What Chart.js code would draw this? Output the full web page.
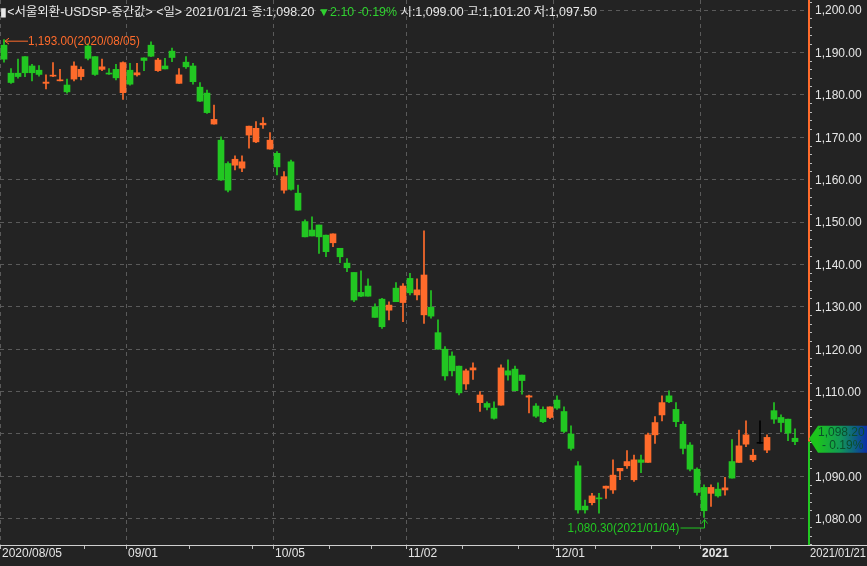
<!DOCTYPE html>
<html>
<head>
<meta charset="utf-8">
<script src="https://cdn.jsdelivr.net/npm/chart.js@4.4.1/dist/chart.umd.min.js"></script>
<style>
html, body { margin: 0; padding: 0; background: #232323; }
#wrap { position: relative; width: 867px; height: 566px; overflow: hidden; }
#header {
    position: absolute; left: 0; top: 2px;
    font: 12px "Liberation Sans", "Noto Sans CJK KR", sans-serif;
    color: #e8e8e8; white-space: nowrap; transform-origin: 0 0;
}
#header .dn { color: #2fd12f; }
</style>
</head>
<body>
<div id="wrap">
    <canvas id="main-chart" width="867" height="566"></canvas>
    <div id="header"><span id="header-text">▮&lt;서울외환-USDSP-중간값&gt; &lt;일&gt; 2021/01/21 종:1,098.20 <span class="dn">▼2.10 -0.19%</span> 시:1,099.00 고:1,101.20 저:1,097.50</span></div>
</div>
<script>
// dates (trading days)
const dates = [
    "2020/08/05", "2020/08/06", "2020/08/07", "2020/08/10", "2020/08/11", "2020/08/12", "2020/08/13", "2020/08/14",
    "2020/08/18", "2020/08/19", "2020/08/20", "2020/08/21", "2020/08/24", "2020/08/25", "2020/08/26", "2020/08/27",
    "2020/08/28", "2020/08/31",
    "2020/09/01", "2020/09/02", "2020/09/03", "2020/09/04", "2020/09/07", "2020/09/08", "2020/09/09", "2020/09/10",
    "2020/09/11", "2020/09/14", "2020/09/15", "2020/09/16", "2020/09/17", "2020/09/18", "2020/09/21", "2020/09/22",
    "2020/09/23", "2020/09/24", "2020/09/25", "2020/09/28", "2020/09/29",
    "2020/10/05", "2020/10/06", "2020/10/07", "2020/10/08", "2020/10/12", "2020/10/13", "2020/10/14", "2020/10/15",
    "2020/10/16", "2020/10/19", "2020/10/20", "2020/10/21", "2020/10/22", "2020/10/23", "2020/10/26", "2020/10/27",
    "2020/10/28", "2020/10/29", "2020/10/30",
    "2020/11/02", "2020/11/03", "2020/11/04", "2020/11/05", "2020/11/06", "2020/11/09", "2020/11/10", "2020/11/11",
    "2020/11/12", "2020/11/13", "2020/11/16", "2020/11/17", "2020/11/18", "2020/11/19", "2020/11/20", "2020/11/23",
    "2020/11/24", "2020/11/25", "2020/11/26", "2020/11/27", "2020/11/30",
    "2020/12/01", "2020/12/02", "2020/12/03", "2020/12/04", "2020/12/07", "2020/12/08", "2020/12/09", "2020/12/10",
    "2020/12/11", "2020/12/14", "2020/12/15", "2020/12/16", "2020/12/17", "2020/12/18", "2020/12/21", "2020/12/22",
    "2020/12/23", "2020/12/24", "2020/12/28", "2020/12/29", "2020/12/30",
    "2021/01/04", "2021/01/05", "2021/01/06", "2021/01/07", "2021/01/08", "2021/01/11", "2021/01/12", "2021/01/13",
    "2021/01/14", "2021/01/15", "2021/01/18", "2021/01/19", "2021/01/20", "2021/01/21"
]

// OHLC
const opens = [
    1191.7, 1185.1, 1185.1, 1189.0, 1186.8, 1185.8, 1182.7, 1184.4, 1183.3, 1182.3, 1183.7, 1184.3, 1191.5, 1189.0,
    1186.0, 1185.1, 1186.0, 1180.5, 1185.8, 1184.7, 1188.7, 1191.7, 1185.7, 1186.8, 1190.3, 1182.7, 1187.7, 1186.8,
    1181.8, 1180.4, 1173.1, 1169.3, 1163.8, 1163.4, 1162.7, 1170.5, 1168.9, 1172.9, 1167.2, 1166.2, 1157.5, 1164.2,
    1156.8, 1150.1, 1148.1, 1149.3, 1146.9, 1145.1, 1143.8, 1140.3, 1138.1, 1133.4, 1134.9, 1130.0, 1131.8, 1129.2,
    1134.4, 1131.0, 1136.7, 1132.8, 1128.1, 1129.9, 1123.9, 1120.0, 1118.4, 1116.0, 1111.8, 1115.1, 1107.4, 1107.2,
    1106.1, 1106.8, 1114.9, 1115.3, 1113.9, 1108.7, 1106.6, 1105.8, 1103.9, 1108.0, 1105.3, 1100.0, 1092.5, 1083.0,
    1083.8, 1084.9, 1087.2, 1086.8, 1091.3, 1092.5, 1089.2, 1093.9, 1093.3, 1099.8, 1104.5, 1109.0, 1105.8, 1102.3,
    1097.4, 1091.7, 1087.4, 1086.0, 1087.0, 1086.8, 1093.5, 1093.3, 1097.6, 1093.9, 1097.8, 1096.2, 1105.5, 1103.9,
    1103.5, 1099.0
]
const highs = [
    1193.0, 1186.2, 1188.4, 1189.0, 1187.2, 1186.9, 1184.7, 1187.6, 1186.0, 1183.7, 1187.8, 1186.6, 1192.0, 1189.0,
    1188.4, 1186.2, 1187.2, 1187.8, 1187.4, 1187.4, 1188.7, 1192.5, 1188.6, 1188.6, 1191.0, 1186.2, 1189.0, 1187.4,
    1182.9, 1181.1, 1177.6, 1170.1, 1164.2, 1165.6, 1165.6, 1172.6, 1173.7, 1174.6, 1171.1, 1166.6, 1161.9, 1164.6,
    1158.7, 1150.5, 1151.2, 1149.3, 1146.9, 1147.2, 1143.8, 1141.4, 1138.1, 1138.5, 1136.6, 1130.7, 1132.0, 1131.2,
    1135.7, 1135.5, 1137.9, 1136.6, 1147.9, 1133.8, 1126.9, 1120.6, 1119.4, 1116.0, 1115.3, 1116.8, 1110.0, 1107.6,
    1107.6, 1116.3, 1117.5, 1116.0, 1113.9, 1109.2, 1107.2, 1106.4, 1106.4, 1109.0, 1106.4, 1101.9, 1093.5, 1084.4,
    1086.0, 1086.0, 1087.7, 1093.9, 1091.9, 1096.1, 1095.0, 1095.0, 1100.2, 1104.1, 1109.0, 1110.2, 1107.4, 1102.9,
    1098.0, 1092.0, 1088.0, 1088.0, 1088.5, 1089.8, 1098.7, 1100.9, 1103.1, 1096.4, 1103.1, 1099.8, 1107.4, 1104.5,
    1103.5, 1101.2
]
const lows = [
    1187.7, 1182.7, 1183.9, 1184.3, 1183.3, 1184.4, 1181.4, 1184.3, 1183.3, 1180.4, 1183.3, 1183.5, 1188.2, 1184.6,
    1185.7, 1184.8, 1183.5, 1178.9, 1182.3, 1184.4, 1185.7, 1189.0, 1185.5, 1186.1, 1187.8, 1182.7, 1186.2, 1182.5,
    1178.4, 1175.6, 1173.1, 1159.8, 1157.1, 1162.3, 1161.9, 1167.4, 1168.7, 1172.1, 1167.2, 1161.1, 1156.8, 1157.5,
    1152.8, 1146.5, 1146.7, 1142.6, 1141.8, 1144.2, 1140.4, 1138.3, 1131.2, 1132.4, 1132.5, 1127.5, 1124.9, 1126.9,
    1131.2, 1126.5, 1132.8, 1131.6, 1126.1, 1127.3, 1120.0, 1112.7, 1113.7, 1109.2, 1110.5, 1112.9, 1105.3, 1105.7,
    1103.5, 1106.8, 1112.7, 1110.2, 1109.4, 1105.0, 1103.9, 1102.7, 1103.6, 1105.8, 1100.3, 1096.2, 1081.3, 1081.3,
    1083.3, 1081.3, 1084.8, 1086.0, 1089.2, 1091.9, 1088.8, 1090.9, 1093.3, 1097.8, 1103.1, 1107.4, 1101.7, 1095.3,
    1091.3, 1085.6, 1080.3, 1082.9, 1085.1, 1085.6, 1089.6, 1093.3, 1097.0, 1093.5, 1097.8, 1095.6, 1102.5, 1100.5,
    1098.4, 1097.5
]
const closes = [
    1188.4, 1182.9, 1184.3, 1185.2, 1185.2, 1184.8, 1183.0, 1184.6, 1183.5, 1180.7, 1186.8, 1186.0, 1188.6, 1184.8,
    1186.6, 1184.9, 1184.0, 1187.6, 1182.5, 1185.2, 1188.1, 1189.1, 1188.2, 1186.1, 1188.8, 1184.7, 1186.6, 1183.1,
    1178.5, 1175.8, 1174.2, 1159.9, 1157.5, 1164.8, 1164.2, 1172.6, 1172.1, 1173.3, 1169.3, 1163.0, 1160.7, 1157.7,
    1152.8, 1146.5, 1146.7, 1146.5, 1143.0, 1147.2, 1141.8, 1139.2, 1131.6, 1132.5, 1132.5, 1127.5, 1125.3, 1130.4,
    1131.2, 1134.9, 1133.3, 1134.0, 1137.5, 1127.8, 1120.0, 1113.7, 1114.9, 1109.7, 1114.9, 1115.6, 1109.2, 1106.3,
    1103.7, 1115.6, 1113.9, 1110.2, 1112.6, 1109.0, 1104.2, 1102.9, 1106.4, 1106.1, 1100.6, 1096.6, 1082.1, 1082.1,
    1085.4, 1084.7, 1087.7, 1090.3, 1091.9, 1093.5, 1093.9, 1093.3, 1099.8, 1102.7, 1107.4, 1107.6, 1102.9, 1096.6,
    1091.7, 1086.2, 1081.9, 1087.4, 1085.4, 1087.3, 1089.6, 1097.2, 1099.8, 1095.0, 1097.8, 1099.2, 1103.5, 1102.7,
    1100.2, 1098.2
]

// axis ticks
const yTickValues = [1080, 1090, 1100, 1110, 1120, 1130, 1140, 1150, 1160, 1170, 1180, 1190, 1200]
const minorTickIdx = [12, 27, 36, 47, 53, 66, 74, 85, 93, 97, 110]

// colours
const UP = "#ff6b2b"
const DOWN = "#22c722"
const SAME = "#000000"
const GRID = "#5a5a5a"
const TEXT = "#e6e6e6"
const FONT = "'Liberation Sans', 'Noto Sans CJK KR', sans-serif"

const candleColor = i => closes[i] > opens[i] ? UP : (closes[i] < opens[i] ? DOWN : SAME)
const colors = dates.map((d, i) => candleColor(i))
const fmt = v => v.toLocaleString("en-US", { minimumFractionDigits: 2, maximumFractionDigits: 2 })

// first trading day of each month -> major ticks
const majorIdx = dates.map((d, i) => i).filter(i => i === 0 || dates[i].slice(0, 7) !== dates[i - 1].slice(0, 7))
const majorValues = majorIdx.map(i => i - 0.5)
const minorValues = minorTickIdx.map(i => i - 0.5)
const isMajor = v => majorValues.includes(v)

const majorLabel = v => {
    const i = v + 0.5
    if (i === 0) return dates[0]
    if (dates[i].slice(0, 4) !== dates[i - 1].slice(0, 4)) return dates[i].slice(0, 4)
    return dates[i].slice(5)
}

Chart.defaults.font.family = FONT
Chart.defaults.font.size = 12

const overlay = {
    id: "overlay",
    afterDraw(chart) {
        const { ctx, chartArea: a, scales: { x, y } } = chart
        const last = closes.length - 1
        const yc = y.getPixelForValue(closes[last])
        ctx.save()

        // bottom line
        ctx.strokeStyle = "#cfcfcf"
        ctx.lineWidth = 1
        ctx.beginPath()
        ctx.moveTo(0, a.bottom + 0.5)
        ctx.lineTo(chart.width, a.bottom + 0.5)
        ctx.stroke()

        // price axis line
        ctx.lineWidth = 2
        ctx.strokeStyle = UP
        ctx.beginPath()
        ctx.moveTo(a.right + 1, 0)
        ctx.lineTo(a.right + 1, yc)
        ctx.stroke()
        ctx.strokeStyle = DOWN
        ctx.beginPath()
        ctx.moveTo(a.right + 1, yc)
        ctx.lineTo(a.right + 1, a.bottom)
        ctx.stroke()

        // minor ticks on price axis
        ctx.strokeStyle = "#bbbbbb"
        ctx.lineWidth = 1
        for (let v = 1074; v <= 1202; v += 2) {
            if (v % 10 === 0) continue
            const py = Math.round(y.getPixelForValue(v)) + 0.5
            ctx.beginPath()
            ctx.moveTo(a.right + 2, py)
            ctx.lineTo(a.right + 4, py)
            ctx.stroke()
        }

        // price labels
        ctx.fillStyle = TEXT
        ctx.font = "12px " + FONT
        ctx.textBaseline = "middle"
        ctx.textAlign = "left"
        yTickValues.forEach(v => ctx.fillText(fmt(v), a.right + 7, y.getPixelForValue(v) + 1, 47))

        // date labels
        majorValues.forEach(v => {
            const label = majorLabel(v)
            ctx.font = (label.length === 4 ? "bold " : "") + "12px " + FONT
            ctx.fillText(label, x.getPixelForValue(v) + 1.5, a.bottom + 9, label.length === 10 ? 60 : 40)
        })
        ctx.font = "12px " + FONT
        ctx.fillText(dates[last], a.right + 2, a.bottom + 9, 56)

        // current price marker
        const ym = yc - 3
        const left = a.right + 1
        const grad = ctx.createLinearGradient(left + 8, 0, chart.width, 0)
        grad.addColorStop(0, "#1cc41c")
        grad.addColorStop(0.45, "#129a55")
        grad.addColorStop(1, "#0b2fa8")
        ctx.fillStyle = grad
        ctx.beginPath()
        ctx.moveTo(left, ym)
        ctx.lineTo(left + 9, ym - 13)
        ctx.lineTo(chart.width, ym - 13)
        ctx.lineTo(chart.width, ym + 14)
        ctx.lineTo(left + 9, ym + 14)
        ctx.closePath()
        ctx.fill()
        ctx.fillStyle = "#0b4f2c"
        ctx.fillText(fmt(closes[last]), left + 9, ym - 6)
        ctx.fillText("- 0.19%", left + 13, ym + 7)

        // max annotation
        const hiIdx = highs.indexOf(Math.max(...highs))
        const hx = x.getPixelForValue(hiIdx) + 1
        const hy = y.getPixelForValue(highs[hiIdx]) + 1.5
        ctx.strokeStyle = UP
        ctx.fillStyle = UP
        ctx.beginPath()
        ctx.moveTo(hx, hy)
        ctx.lineTo(hx + 23, hy)
        ctx.moveTo(hx, hy)
        ctx.lineTo(hx + 4, hy - 3)
        ctx.moveTo(hx, hy)
        ctx.lineTo(hx + 4, hy + 3)
        ctx.stroke()
        ctx.fillText(`${fmt(highs[hiIdx])}(${dates[hiIdx]})`, hx + 23, hy + 1, 112)

        // min annotation
        const loIdx = lows.indexOf(Math.min(...lows))
        const lx = Math.round(x.getPixelForValue(loIdx)) + 0.5
        const ly = y.getPixelForValue(lows[loIdx]) + 2
        ctx.strokeStyle = DOWN
        ctx.fillStyle = DOWN
        ctx.beginPath()
        ctx.moveTo(lx, ly)
        ctx.lineTo(lx, ly + 8.5)
        ctx.lineTo(lx - 24, ly + 8.5)
        ctx.moveTo(lx, ly)
        ctx.lineTo(lx - 3, ly + 4)
        ctx.moveTo(lx, ly)
        ctx.lineTo(lx + 3, ly + 4)
        ctx.stroke()
        ctx.textAlign = "right"
        ctx.fillText(`${fmt(lows[loIdx])}(${dates[loIdx]})`, lx - 25, ly + 9, 112)

        ctx.restore()
    }
}

const MainChart = new Chart(document.getElementById("main-chart"), {
    type: "bar",
    data: {
        datasets: [
            {
                // bodies
                data: dates.map((d, i) => ({ x: i, y: [opens[i], closes[i]] })),
                backgroundColor: colors,
                barThickness: 6,
                minBarLength: 1,
                grouped: false
            },
            {
                // wicks
                data: dates.map((d, i) => ({ x: i, y: [lows[i], highs[i]] })),
                backgroundColor: colors,
                barThickness: 1,
                grouped: false
            }
        ]
    },
    options: {
        responsive: false,
        animation: false,
        devicePixelRatio: 1,
        layout: { padding: 0 },
        plugins: { legend: { display: false }, tooltip: { enabled: false } },
        scales: {
            x: {
                type: "linear",
                offset: false,
                min: -4 / 7,
                max: 804 / 7,
                afterBuildTicks: s => {
                    s.ticks = majorValues.concat(minorValues).sort((a, b) => a - b).map(v => ({ value: v }))
                },
                afterFit: s => { s.height = 21 },
                grid: {
                    offset: false,
                    color: c => (c.tick && isMajor(c.tick.value)) ? GRID : "rgba(0,0,0,0)",
                    tickColor: "#bdbdbd",
                    tickLength: 4
                },
                border: { display: true, color: "#cfcfcf", dash: [4, 4] },
                ticks: { display: false }
            },
            y: {
                position: "right",
                min: 1073.82,
                max: 1202.36,
                afterBuildTicks: s => { s.ticks = yTickValues.map(v => ({ value: v })) },
                afterFit: s => { s.width = 59 },
                grid: { color: GRID, drawTicks: false },
                border: { display: false, dash: [4, 4] },
                ticks: { display: false }
            }
        }
    },
    plugins: [overlay]
})

// fit header to reference width
const headerText = document.getElementById("header-text")
const headerBox = document.getElementById("header")
headerBox.style.transform = `scaleX(${597 / headerText.getBoundingClientRect().width})`
</script>
</body>
</html>
